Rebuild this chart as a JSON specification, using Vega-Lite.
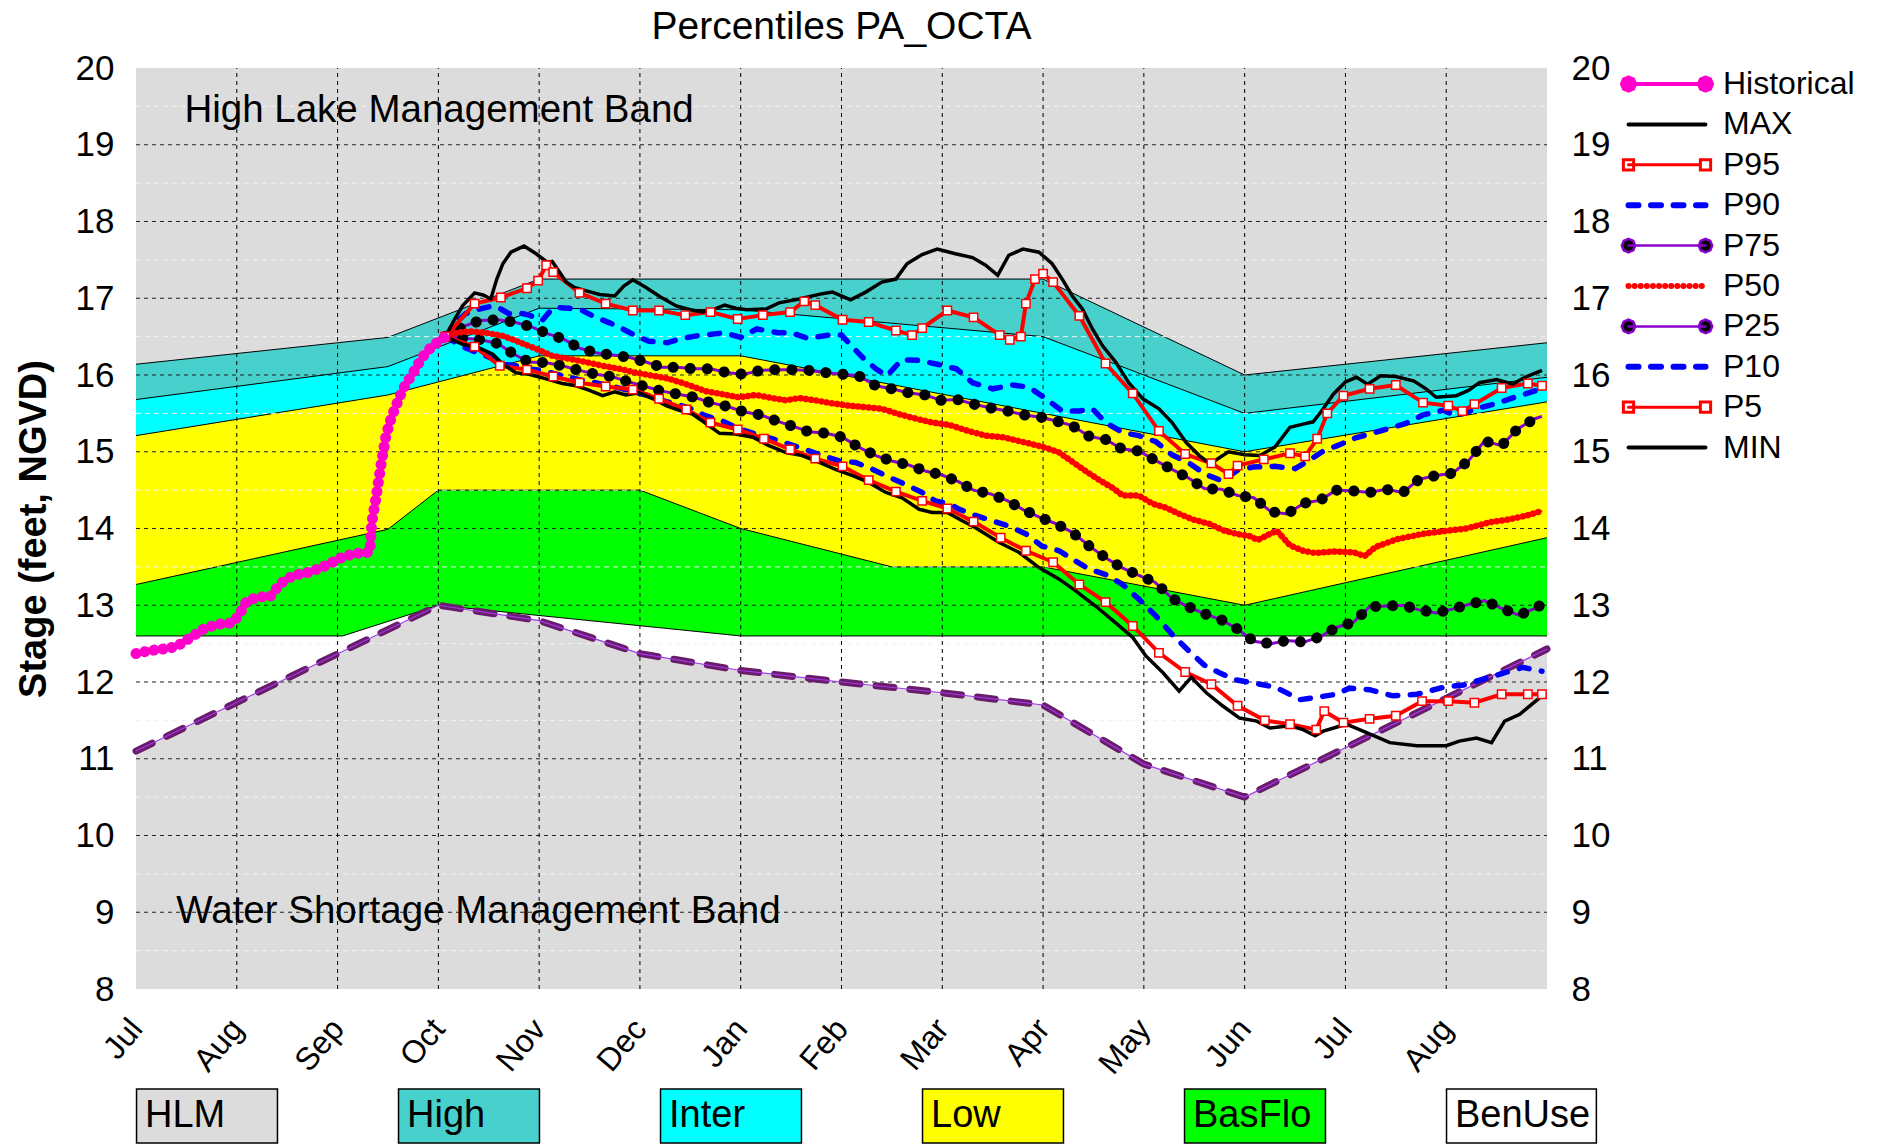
{
"$schema":"https://vega.github.io/schema/vega-lite/v6.json",
"width":1411,"height":921,
"autosize":{"type":"none"},
"padding":{"left":136,"top":68,"right":334,"bottom":157},
"title":{"text":"Percentiles PA_OCTA","fontSize":39,"fontWeight":"normal","anchor":"middle","frame":"group","offset":4,"color":"black"},
"config":{
"font":"Liberation Sans",
"view":{"stroke":null,"fill":"#DCDCDC"},
"axis":{"labelColor":"black","ticks":false,"domain":false,"grid":false,"labelOverlap":false,"labelFlush":false},
"legend":{"labelColor":"black"}
},
"datasets":{
"zb":[
{"z":"High","m":0,"v":16.14},{"z":"High","m":2.5,"v":16.49},{"z":"High","m":4,"v":17.25},{"z":"High","m":9,"v":17.25},{"z":"High","m":11,"v":16.0},{"z":"High","m":14,"v":16.42},
{"z":"Inter","m":0,"v":15.68},{"z":"Inter","m":2.5,"v":16.11},{"z":"Inter","m":4,"v":16.87},{"z":"Inter","m":6,"v":16.85},{"z":"Inter","m":9,"v":16.5},{"z":"Inter","m":11,"v":15.5},{"z":"Inter","m":14,"v":15.97},
{"z":"Low","m":0,"v":15.21},{"z":"Low","m":2.5,"v":15.74},{"z":"Low","m":4,"v":16.25},{"z":"Low","m":6,"v":16.25},{"z":"Low","m":11,"v":15.0},{"z":"Low","m":14,"v":15.65},
{"z":"BasFlo","m":0,"v":13.27},{"z":"BasFlo","m":2.5,"v":13.99},{"z":"BasFlo","m":3,"v":14.5},{"z":"BasFlo","m":5,"v":14.5},{"z":"BasFlo","m":6,"v":14.0},{"z":"BasFlo","m":7.5,"v":13.5},{"z":"BasFlo","m":9,"v":13.5},{"z":"BasFlo","m":11,"v":13.0},{"z":"BasFlo","m":14,"v":13.88},
{"z":"BenUse","m":0,"v":12.6},{"z":"BenUse","m":2.05,"v":12.6},{"z":"BenUse","m":3,"v":13.0},{"z":"BenUse","m":6,"v":12.6},{"z":"BenUse","m":14,"v":12.6},
{"z":"WSM","m":0,"v":11.1},{"z":"WSM","m":3,"v":13.0},{"z":"WSM","m":4,"v":12.8},{"z":"WSM","m":5,"v":12.37},{"z":"WSM","m":6,"v":12.15},{"z":"WSM","m":7,"v":12.0},{"z":"WSM","m":8,"v":11.86},{"z":"WSM","m":9,"v":11.7},{"z":"WSM","m":10,"v":10.93},{"z":"WSM","m":11,"v":10.5},{"z":"WSM","m":14,"v":12.43}
],
"gx":[{"m":1,"v":8},{"m":2,"v":8},{"m":3,"v":8},{"m":4,"v":8},{"m":5,"v":8},{"m":6,"v":8},{"m":7,"v":8},{"m":8,"v":8},{"m":9,"v":8},{"m":10,"v":8},{"m":11,"v":8},{"m":12,"v":8},{"m":13,"v":8}],
"gy":[{"m":0,"v":9},{"m":0,"v":10},{"m":0,"v":11},{"m":0,"v":12},{"m":0,"v":13},{"m":0,"v":14},{"m":0,"v":15},{"m":0,"v":16},{"m":0,"v":17},{"m":0,"v":18},{"m":0,"v":19}],
"gh":[{"m":0,"v":8.5},{"m":0,"v":9.5},{"m":0,"v":10.5},{"m":0,"v":11.5},{"m":0,"v":12.5},{"m":0,"v":13.5},{"m":0,"v":14.5},{"m":0,"v":15.5},{"m":0,"v":16.5},{"m":0,"v":17.5},{"m":0,"v":18.5},{"m":0,"v":19.5}],
"ann":[{"t":"High Lake Management Band","m":0.48,"v":19.45},{"t":"Water Shortage Management Band","m":0.4,"v":9.01}],
"pct":[
{"s":"Historical","m":0,"v":12.37},{"s":"Historical","m":0.14,"v":12.41},{"s":"Historical","m":0.27,"v":12.43},{"s":"Historical","m":0.4,"v":12.46},{"s":"Historical","m":0.53,"v":12.57},{"s":"Historical","m":0.67,"v":12.69},{"s":"Historical","m":0.8,"v":12.75},{"s":"Historical","m":0.96,"v":12.77},{"s":"Historical","m":1.03,"v":12.89},{"s":"Historical","m":1.1,"v":13.06},{"s":"Historical","m":1.23,"v":13.11},{"s":"Historical","m":1.33,"v":13.11},{"s":"Historical","m":1.43,"v":13.28},{"s":"Historical","m":1.56,"v":13.39},{"s":"Historical","m":1.72,"v":13.43},{"s":"Historical","m":1.89,"v":13.52},{"s":"Historical","m":2.02,"v":13.61},{"s":"Historical","m":2.15,"v":13.67},{"s":"Historical","m":2.32,"v":13.69},{"s":"Historical","m":2.34,"v":14.08},{"s":"Historical","m":2.38,"v":14.39},{"s":"Historical","m":2.43,"v":14.82},{"s":"Historical","m":2.48,"v":15.21},{"s":"Historical","m":2.53,"v":15.43},{"s":"Historical","m":2.58,"v":15.6},{"s":"Historical","m":2.65,"v":15.82},{"s":"Historical","m":2.75,"v":16.03},{"s":"Historical","m":2.84,"v":16.23},{"s":"Historical","m":2.94,"v":16.38},{"s":"Historical","m":3.07,"v":16.5},
{"s":"MAX","m":3.07,"v":16.5},{"s":"MAX","m":3.15,"v":16.7},{"s":"MAX","m":3.24,"v":16.9},{"s":"MAX","m":3.36,"v":17.07},{"s":"MAX","m":3.45,"v":17.04},{"s":"MAX","m":3.52,"v":16.99},{"s":"MAX","m":3.58,"v":17.25},{"s":"MAX","m":3.64,"v":17.45},{"s":"MAX","m":3.72,"v":17.6},{"s":"MAX","m":3.85,"v":17.68},{"s":"MAX","m":3.97,"v":17.58},{"s":"MAX","m":4.08,"v":17.47},{"s":"MAX","m":4.13,"v":17.48},{"s":"MAX","m":4.27,"v":17.21},{"s":"MAX","m":4.35,"v":17.14},{"s":"MAX","m":4.46,"v":17.1},{"s":"MAX","m":4.6,"v":17.05},{"s":"MAX","m":4.75,"v":17.03},{"s":"MAX","m":4.84,"v":17.16},{"s":"MAX","m":4.93,"v":17.24},{"s":"MAX","m":5.06,"v":17.14},{"s":"MAX","m":5.2,"v":17.02},{"s":"MAX","m":5.36,"v":16.9},{"s":"MAX","m":5.5,"v":16.85},{"s":"MAX","m":5.62,"v":16.82},{"s":"MAX","m":5.72,"v":16.85},{"s":"MAX","m":5.84,"v":16.91},{"s":"MAX","m":5.95,"v":16.87},{"s":"MAX","m":6.06,"v":16.85},{"s":"MAX","m":6.25,"v":16.86},{"s":"MAX","m":6.38,"v":16.94},{"s":"MAX","m":6.58,"v":16.99},{"s":"MAX","m":6.81,"v":17.06},{"s":"MAX","m":6.91,"v":17.08},{"s":"MAX","m":7.09,"v":16.98},{"s":"MAX","m":7.24,"v":17.08},{"s":"MAX","m":7.4,"v":17.21},{"s":"MAX","m":7.54,"v":17.25},{"s":"MAX","m":7.65,"v":17.45},{"s":"MAX","m":7.8,"v":17.57},{"s":"MAX","m":7.95,"v":17.64},{"s":"MAX","m":8.13,"v":17.58},{"s":"MAX","m":8.3,"v":17.53},{"s":"MAX","m":8.43,"v":17.43},{"s":"MAX","m":8.55,"v":17.3},{"s":"MAX","m":8.66,"v":17.56},{"s":"MAX","m":8.8,"v":17.64},{"s":"MAX","m":8.96,"v":17.6},{"s":"MAX","m":9.09,"v":17.45},{"s":"MAX","m":9.19,"v":17.25},{"s":"MAX","m":9.29,"v":17.03},{"s":"MAX","m":9.39,"v":16.86},{"s":"MAX","m":9.49,"v":16.6},{"s":"MAX","m":9.59,"v":16.38},{"s":"MAX","m":9.72,"v":16.17},{"s":"MAX","m":9.85,"v":15.9},{"s":"MAX","m":9.99,"v":15.69},{"s":"MAX","m":10.15,"v":15.56},{"s":"MAX","m":10.28,"v":15.38},{"s":"MAX","m":10.42,"v":15.12},{"s":"MAX","m":10.55,"v":14.95},{"s":"MAX","m":10.62,"v":14.88},{"s":"MAX","m":10.7,"v":14.88},{"s":"MAX","m":10.84,"v":15.0},{"s":"MAX","m":11.0,"v":14.96},{"s":"MAX","m":11.15,"v":14.95},{"s":"MAX","m":11.3,"v":15.06},{"s":"MAX","m":11.45,"v":15.32},{"s":"MAX","m":11.58,"v":15.36},{"s":"MAX","m":11.68,"v":15.39},{"s":"MAX","m":11.78,"v":15.56},{"s":"MAX","m":11.88,"v":15.75},{"s":"MAX","m":12.0,"v":15.91},{"s":"MAX","m":12.11,"v":15.97},{"s":"MAX","m":12.22,"v":15.88},{"s":"MAX","m":12.35,"v":15.99},{"s":"MAX","m":12.5,"v":15.98},{"s":"MAX","m":12.68,"v":15.92},{"s":"MAX","m":12.8,"v":15.82},{"s":"MAX","m":12.9,"v":15.71},{"s":"MAX","m":13.1,"v":15.73},{"s":"MAX","m":13.22,"v":15.8},{"s":"MAX","m":13.33,"v":15.9},{"s":"MAX","m":13.5,"v":15.94},{"s":"MAX","m":13.66,"v":15.88},{"s":"MAX","m":13.78,"v":15.97},{"s":"MAX","m":13.95,"v":16.06},
{"s":"P95","m":3.07,"v":16.5},{"s":"P95","m":3.36,"v":16.93},{"s":"P95","m":3.62,"v":17.01},{"s":"P95","m":3.88,"v":17.13},{"s":"P95","m":3.99,"v":17.23},{"s":"P95","m":4.07,"v":17.43},{"s":"P95","m":4.14,"v":17.34},{"s":"P95","m":4.4,"v":17.07},{"s":"P95","m":4.66,"v":16.93},{"s":"P95","m":4.93,"v":16.84},{"s":"P95","m":5.19,"v":16.84},{"s":"P95","m":5.45,"v":16.78},{"s":"P95","m":5.7,"v":16.82},{"s":"P95","m":5.97,"v":16.73},{"s":"P95","m":6.22,"v":16.78},{"s":"P95","m":6.49,"v":16.82},{"s":"P95","m":6.63,"v":16.96},{"s":"P95","m":6.74,"v":16.91},{"s":"P95","m":7.01,"v":16.72},{"s":"P95","m":7.27,"v":16.69},{"s":"P95","m":7.54,"v":16.58},{"s":"P95","m":7.7,"v":16.52},{"s":"P95","m":7.8,"v":16.61},{"s":"P95","m":8.05,"v":16.84},{"s":"P95","m":8.31,"v":16.75},{"s":"P95","m":8.57,"v":16.52},{"s":"P95","m":8.67,"v":16.46},{"s":"P95","m":8.78,"v":16.5},{"s":"P95","m":8.83,"v":16.93},{"s":"P95","m":8.92,"v":17.25},{"s":"P95","m":9.0,"v":17.32},{"s":"P95","m":9.1,"v":17.21},{"s":"P95","m":9.36,"v":16.77},{"s":"P95","m":9.62,"v":16.15},{"s":"P95","m":9.89,"v":15.76},{"s":"P95","m":10.15,"v":15.27},{"s":"P95","m":10.41,"v":14.97},{"s":"P95","m":10.67,"v":14.85},{"s":"P95","m":10.84,"v":14.71},{"s":"P95","m":10.93,"v":14.82},{"s":"P95","m":11.19,"v":14.9},{"s":"P95","m":11.45,"v":14.98},{"s":"P95","m":11.6,"v":14.94},{"s":"P95","m":11.72,"v":15.17},{"s":"P95","m":11.82,"v":15.5},{"s":"P95","m":11.98,"v":15.73},{"s":"P95","m":12.24,"v":15.82},{"s":"P95","m":12.5,"v":15.87},{"s":"P95","m":12.77,"v":15.64},{"s":"P95","m":13.02,"v":15.6},{"s":"P95","m":13.16,"v":15.53},{"s":"P95","m":13.28,"v":15.62},{"s":"P95","m":13.55,"v":15.83},{"s":"P95","m":13.81,"v":15.89},{"s":"P95","m":13.95,"v":15.86},
{"s":"P90","m":3.07,"v":16.5},{"s":"P90","m":3.18,"v":16.69},{"s":"P90","m":3.27,"v":16.8},{"s":"P90","m":3.41,"v":16.86},{"s":"P90","m":3.54,"v":16.9},{"s":"P90","m":3.62,"v":16.86},{"s":"P90","m":3.7,"v":16.8},{"s":"P90","m":3.8,"v":16.81},{"s":"P90","m":3.9,"v":16.78},{"s":"P90","m":4.03,"v":16.71},{"s":"P90","m":4.12,"v":16.85},{"s":"P90","m":4.17,"v":16.88},{"s":"P90","m":4.3,"v":16.87},{"s":"P90","m":4.43,"v":16.84},{"s":"P90","m":4.56,"v":16.75},{"s":"P90","m":4.7,"v":16.68},{"s":"P90","m":4.83,"v":16.6},{"s":"P90","m":4.96,"v":16.51},{"s":"P90","m":5.09,"v":16.44},{"s":"P90","m":5.27,"v":16.42},{"s":"P90","m":5.4,"v":16.47},{"s":"P90","m":5.56,"v":16.51},{"s":"P90","m":5.71,"v":16.53},{"s":"P90","m":5.84,"v":16.55},{"s":"P90","m":6.0,"v":16.49},{"s":"P90","m":6.16,"v":16.6},{"s":"P90","m":6.37,"v":16.55},{"s":"P90","m":6.5,"v":16.55},{"s":"P90","m":6.66,"v":16.48},{"s":"P90","m":6.88,"v":16.52},{"s":"P90","m":7.0,"v":16.52},{"s":"P90","m":7.2,"v":16.24},{"s":"P90","m":7.34,"v":16.08},{"s":"P90","m":7.45,"v":15.99},{"s":"P90","m":7.6,"v":16.2},{"s":"P90","m":7.77,"v":16.19},{"s":"P90","m":7.95,"v":16.14},{"s":"P90","m":8.14,"v":16.08},{"s":"P90","m":8.3,"v":15.9},{"s":"P90","m":8.5,"v":15.82},{"s":"P90","m":8.7,"v":15.87},{"s":"P90","m":8.86,"v":15.84},{"s":"P90","m":9.03,"v":15.69},{"s":"P90","m":9.19,"v":15.53},{"s":"P90","m":9.36,"v":15.53},{"s":"P90","m":9.49,"v":15.56},{"s":"P90","m":9.62,"v":15.38},{"s":"P90","m":9.79,"v":15.25},{"s":"P90","m":9.95,"v":15.21},{"s":"P90","m":10.12,"v":15.13},{"s":"P90","m":10.28,"v":14.96},{"s":"P90","m":10.45,"v":14.85},{"s":"P90","m":10.62,"v":14.7},{"s":"P90","m":10.78,"v":14.62},{"s":"P90","m":10.93,"v":14.76},{"s":"P90","m":11.08,"v":14.8},{"s":"P90","m":11.3,"v":14.81},{"s":"P90","m":11.5,"v":14.78},{"s":"P90","m":11.63,"v":14.88},{"s":"P90","m":11.77,"v":15.0},{"s":"P90","m":11.92,"v":15.08},{"s":"P90","m":12.1,"v":15.18},{"s":"P90","m":12.37,"v":15.28},{"s":"P90","m":12.6,"v":15.37},{"s":"P90","m":12.77,"v":15.48},{"s":"P90","m":12.97,"v":15.54},{"s":"P90","m":13.1,"v":15.47},{"s":"P90","m":13.3,"v":15.56},{"s":"P90","m":13.5,"v":15.63},{"s":"P90","m":13.7,"v":15.72},{"s":"P90","m":13.95,"v":15.82},
{"s":"P75","m":3.07,"v":16.5},{"s":"P75","m":3.24,"v":16.63},{"s":"P75","m":3.42,"v":16.71},{"s":"P75","m":3.59,"v":16.72},{"s":"P75","m":3.75,"v":16.69},{"s":"P75","m":3.92,"v":16.63},{"s":"P75","m":4.08,"v":16.54},{"s":"P75","m":4.24,"v":16.47},{"s":"P75","m":4.4,"v":16.35},{"s":"P75","m":4.56,"v":16.29},{"s":"P75","m":4.73,"v":16.26},{"s":"P75","m":4.89,"v":16.23},{"s":"P75","m":5.06,"v":16.17},{"s":"P75","m":5.22,"v":16.1},{"s":"P75","m":5.37,"v":16.1},{"s":"P75","m":5.54,"v":16.08},{"s":"P75","m":5.7,"v":16.08},{"s":"P75","m":5.87,"v":16.03},{"s":"P75","m":6.03,"v":16.01},{"s":"P75","m":6.2,"v":16.06},{"s":"P75","m":6.36,"v":16.07},{"s":"P75","m":6.52,"v":16.07},{"s":"P75","m":6.68,"v":16.06},{"s":"P75","m":6.85,"v":16.03},{"s":"P75","m":7.01,"v":16.01},{"s":"P75","m":7.17,"v":15.99},{"s":"P75","m":7.34,"v":15.86},{"s":"P75","m":7.5,"v":15.82},{"s":"P75","m":7.66,"v":15.77},{"s":"P75","m":7.83,"v":15.74},{"s":"P75","m":7.99,"v":15.67},{"s":"P75","m":8.15,"v":15.68},{"s":"P75","m":8.31,"v":15.62},{"s":"P75","m":8.48,"v":15.57},{"s":"P75","m":8.65,"v":15.53},{"s":"P75","m":8.81,"v":15.48},{"s":"P75","m":8.98,"v":15.45},{"s":"P75","m":9.13,"v":15.4},{"s":"P75","m":9.29,"v":15.34},{"s":"P75","m":9.46,"v":15.2},{"s":"P75","m":9.62,"v":15.16},{"s":"P75","m":9.78,"v":15.04},{"s":"P75","m":9.95,"v":15.01},{"s":"P75","m":10.11,"v":14.89},{"s":"P75","m":10.28,"v":14.77},{"s":"P75","m":10.44,"v":14.66},{"s":"P75","m":10.6,"v":14.52},{"s":"P75","m":10.77,"v":14.51},{"s":"P75","m":10.93,"v":14.43},{"s":"P75","m":11.09,"v":14.4},{"s":"P75","m":11.26,"v":14.22},{"s":"P75","m":11.42,"v":14.19},{"s":"P75","m":11.59,"v":14.33},{"s":"P75","m":11.75,"v":14.37},{"s":"P75","m":11.91,"v":14.5},{"s":"P75","m":12.08,"v":14.49},{"s":"P75","m":12.24,"v":14.47},{"s":"P75","m":12.4,"v":14.51},{"s":"P75","m":12.57,"v":14.47},{"s":"P75","m":12.73,"v":14.64},{"s":"P75","m":12.9,"v":14.69},{"s":"P75","m":13.06,"v":14.72},{"s":"P75","m":13.22,"v":14.88},{"s":"P75","m":13.38,"v":15.14},{"s":"P75","m":13.55,"v":15.08},{"s":"P75","m":13.71,"v":15.3},{"s":"P75","m":13.88,"v":15.43},{"s":"P75","m":13.95,"v":15.46},
{"s":"P50","m":3.07,"v":16.5},{"s":"P50","m":3.18,"v":16.55},{"s":"P50","m":3.31,"v":16.57},{"s":"P50","m":3.47,"v":16.55},{"s":"P50","m":3.64,"v":16.51},{"s":"P50","m":3.8,"v":16.43},{"s":"P50","m":3.97,"v":16.34},{"s":"P50","m":4.13,"v":16.25},{"s":"P50","m":4.3,"v":16.21},{"s":"P50","m":4.46,"v":16.17},{"s":"P50","m":4.63,"v":16.12},{"s":"P50","m":4.8,"v":16.08},{"s":"P50","m":4.96,"v":16.03},{"s":"P50","m":5.13,"v":15.99},{"s":"P50","m":5.29,"v":15.95},{"s":"P50","m":5.46,"v":15.88},{"s":"P50","m":5.65,"v":15.79},{"s":"P50","m":5.82,"v":15.75},{"s":"P50","m":5.98,"v":15.71},{"s":"P50","m":6.15,"v":15.74},{"s":"P50","m":6.31,"v":15.7},{"s":"P50","m":6.45,"v":15.67},{"s":"P50","m":6.58,"v":15.7},{"s":"P50","m":6.74,"v":15.67},{"s":"P50","m":6.91,"v":15.63},{"s":"P50","m":7.07,"v":15.6},{"s":"P50","m":7.24,"v":15.58},{"s":"P50","m":7.4,"v":15.56},{"s":"P50","m":7.57,"v":15.49},{"s":"P50","m":7.74,"v":15.43},{"s":"P50","m":7.9,"v":15.38},{"s":"P50","m":8.07,"v":15.35},{"s":"P50","m":8.26,"v":15.27},{"s":"P50","m":8.43,"v":15.21},{"s":"P50","m":8.6,"v":15.19},{"s":"P50","m":8.76,"v":15.14},{"s":"P50","m":8.89,"v":15.1},{"s":"P50","m":9.03,"v":15.05},{"s":"P50","m":9.16,"v":14.99},{"s":"P50","m":9.29,"v":14.87},{"s":"P50","m":9.42,"v":14.75},{"s":"P50","m":9.56,"v":14.63},{"s":"P50","m":9.69,"v":14.53},{"s":"P50","m":9.79,"v":14.43},{"s":"P50","m":9.95,"v":14.43},{"s":"P50","m":10.09,"v":14.32},{"s":"P50","m":10.22,"v":14.27},{"s":"P50","m":10.35,"v":14.19},{"s":"P50","m":10.48,"v":14.12},{"s":"P50","m":10.65,"v":14.06},{"s":"P50","m":10.8,"v":13.97},{"s":"P50","m":10.92,"v":13.93},{"s":"P50","m":11.05,"v":13.9},{"s":"P50","m":11.13,"v":13.85},{"s":"P50","m":11.22,"v":13.91},{"s":"P50","m":11.32,"v":13.97},{"s":"P50","m":11.45,"v":13.78},{"s":"P50","m":11.58,"v":13.71},{"s":"P50","m":11.7,"v":13.68},{"s":"P50","m":11.88,"v":13.7},{"s":"P50","m":12.08,"v":13.69},{"s":"P50","m":12.19,"v":13.64},{"s":"P50","m":12.3,"v":13.76},{"s":"P50","m":12.51,"v":13.86},{"s":"P50","m":12.77,"v":13.93},{"s":"P50","m":13.0,"v":13.97},{"s":"P50","m":13.2,"v":14.0},{"s":"P50","m":13.43,"v":14.08},{"s":"P50","m":13.63,"v":14.12},{"s":"P50","m":13.8,"v":14.17},{"s":"P50","m":13.95,"v":14.23},
{"s":"P25","m":3.07,"v":16.5},{"s":"P25","m":3.26,"v":16.48},{"s":"P25","m":3.42,"v":16.46},{"s":"P25","m":3.59,"v":16.41},{"s":"P25","m":3.75,"v":16.27},{"s":"P25","m":3.9,"v":16.17},{"s":"P25","m":4.07,"v":16.16},{"s":"P25","m":4.23,"v":16.12},{"s":"P25","m":4.4,"v":16.06},{"s":"P25","m":4.56,"v":16.01},{"s":"P25","m":4.72,"v":15.98},{"s":"P25","m":4.89,"v":15.91},{"s":"P25","m":5.05,"v":15.85},{"s":"P25","m":5.22,"v":15.79},{"s":"P25","m":5.38,"v":15.75},{"s":"P25","m":5.54,"v":15.71},{"s":"P25","m":5.7,"v":15.64},{"s":"P25","m":5.87,"v":15.59},{"s":"P25","m":6.03,"v":15.52},{"s":"P25","m":6.2,"v":15.48},{"s":"P25","m":6.36,"v":15.4},{"s":"P25","m":6.52,"v":15.33},{"s":"P25","m":6.68,"v":15.26},{"s":"P25","m":6.85,"v":15.24},{"s":"P25","m":7.01,"v":15.19},{"s":"P25","m":7.17,"v":15.06},{"s":"P25","m":7.34,"v":14.95},{"s":"P25","m":7.5,"v":14.88},{"s":"P25","m":7.66,"v":14.83},{"s":"P25","m":7.83,"v":14.75},{"s":"P25","m":7.99,"v":14.7},{"s":"P25","m":8.16,"v":14.61},{"s":"P25","m":8.31,"v":14.5},{"s":"P25","m":8.48,"v":14.45},{"s":"P25","m":8.65,"v":14.36},{"s":"P25","m":8.81,"v":14.24},{"s":"P25","m":8.98,"v":14.14},{"s":"P25","m":9.13,"v":14.06},{"s":"P25","m":9.29,"v":13.95},{"s":"P25","m":9.46,"v":13.77},{"s":"P25","m":9.62,"v":13.62},{"s":"P25","m":9.78,"v":13.49},{"s":"P25","m":9.95,"v":13.39},{"s":"P25","m":10.11,"v":13.3},{"s":"P25","m":10.28,"v":13.09},{"s":"P25","m":10.44,"v":12.98},{"s":"P25","m":10.6,"v":12.89},{"s":"P25","m":10.77,"v":12.81},{"s":"P25","m":10.93,"v":12.69},{"s":"P25","m":11.09,"v":12.53},{"s":"P25","m":11.26,"v":12.5},{"s":"P25","m":11.42,"v":12.54},{"s":"P25","m":11.59,"v":12.52},{"s":"P25","m":11.75,"v":12.59},{"s":"P25","m":11.91,"v":12.71},{"s":"P25","m":12.08,"v":12.78},{"s":"P25","m":12.24,"v":12.98},{"s":"P25","m":12.4,"v":12.99},{"s":"P25","m":12.57,"v":13.0},{"s":"P25","m":12.73,"v":12.94},{"s":"P25","m":12.9,"v":12.9},{"s":"P25","m":13.06,"v":12.95},{"s":"P25","m":13.22,"v":13.01},{"s":"P25","m":13.38,"v":13.06},{"s":"P25","m":13.55,"v":12.96},{"s":"P25","m":13.72,"v":12.87},{"s":"P25","m":13.88,"v":12.96},{"s":"P25","m":13.95,"v":13.01},
{"s":"P10","m":3.07,"v":16.5},{"s":"P10","m":3.24,"v":16.37},{"s":"P10","m":3.37,"v":16.3},{"s":"P10","m":3.51,"v":16.23},{"s":"P10","m":3.64,"v":16.14},{"s":"P10","m":3.77,"v":16.12},{"s":"P10","m":3.9,"v":16.08},{"s":"P10","m":4.03,"v":16.06},{"s":"P10","m":4.17,"v":16.01},{"s":"P10","m":4.3,"v":15.97},{"s":"P10","m":4.43,"v":15.93},{"s":"P10","m":4.56,"v":15.9},{"s":"P10","m":4.7,"v":15.86},{"s":"P10","m":4.83,"v":15.82},{"s":"P10","m":4.96,"v":15.77},{"s":"P10","m":5.09,"v":15.73},{"s":"P10","m":5.22,"v":15.67},{"s":"P10","m":5.36,"v":15.62},{"s":"P10","m":5.49,"v":15.57},{"s":"P10","m":5.65,"v":15.47},{"s":"P10","m":5.82,"v":15.4},{"s":"P10","m":5.98,"v":15.3},{"s":"P10","m":6.15,"v":15.23},{"s":"P10","m":6.31,"v":15.17},{"s":"P10","m":6.48,"v":15.1},{"s":"P10","m":6.64,"v":15.03},{"s":"P10","m":6.81,"v":14.95},{"s":"P10","m":6.98,"v":14.88},{"s":"P10","m":7.14,"v":14.86},{"s":"P10","m":7.31,"v":14.77},{"s":"P10","m":7.47,"v":14.67},{"s":"P10","m":7.64,"v":14.57},{"s":"P10","m":7.8,"v":14.47},{"s":"P10","m":7.93,"v":14.36},{"s":"P10","m":8.07,"v":14.32},{"s":"P10","m":8.17,"v":14.25},{"s":"P10","m":8.33,"v":14.17},{"s":"P10","m":8.5,"v":14.1},{"s":"P10","m":8.66,"v":14.03},{"s":"P10","m":8.83,"v":13.93},{"s":"P10","m":8.99,"v":13.77},{"s":"P10","m":9.16,"v":13.71},{"s":"P10","m":9.29,"v":13.6},{"s":"P10","m":9.46,"v":13.47},{"s":"P10","m":9.62,"v":13.4},{"s":"P10","m":9.79,"v":13.27},{"s":"P10","m":9.95,"v":13.08},{"s":"P10","m":10.12,"v":12.86},{"s":"P10","m":10.28,"v":12.62},{"s":"P10","m":10.45,"v":12.4},{"s":"P10","m":10.6,"v":12.22},{"s":"P10","m":10.75,"v":12.12},{"s":"P10","m":10.9,"v":12.03},{"s":"P10","m":11.12,"v":11.98},{"s":"P10","m":11.31,"v":11.93},{"s":"P10","m":11.55,"v":11.77},{"s":"P10","m":11.71,"v":11.8},{"s":"P10","m":11.91,"v":11.84},{"s":"P10","m":12.04,"v":11.92},{"s":"P10","m":12.24,"v":11.9},{"s":"P10","m":12.47,"v":11.82},{"s":"P10","m":12.71,"v":11.84},{"s":"P10","m":12.97,"v":11.93},{"s":"P10","m":13.17,"v":11.96},{"s":"P10","m":13.4,"v":12.05},{"s":"P10","m":13.63,"v":12.14},{"s":"P10","m":13.76,"v":12.19},{"s":"P10","m":13.95,"v":12.14},
{"s":"P5","m":3.07,"v":16.5},{"s":"P5","m":3.36,"v":16.37},{"s":"P5","m":3.61,"v":16.12},{"s":"P5","m":3.88,"v":16.07},{"s":"P5","m":4.14,"v":15.98},{"s":"P5","m":4.4,"v":15.9},{"s":"P5","m":4.66,"v":15.85},{"s":"P5","m":4.93,"v":15.81},{"s":"P5","m":5.19,"v":15.69},{"s":"P5","m":5.46,"v":15.55},{"s":"P5","m":5.7,"v":15.38},{"s":"P5","m":5.97,"v":15.29},{"s":"P5","m":6.23,"v":15.17},{"s":"P5","m":6.49,"v":15.03},{"s":"P5","m":6.74,"v":14.91},{"s":"P5","m":7.01,"v":14.81},{"s":"P5","m":7.27,"v":14.63},{"s":"P5","m":7.54,"v":14.48},{"s":"P5","m":7.8,"v":14.36},{"s":"P5","m":8.05,"v":14.26},{"s":"P5","m":8.31,"v":14.09},{"s":"P5","m":8.58,"v":13.88},{"s":"P5","m":8.83,"v":13.71},{"s":"P5","m":9.1,"v":13.56},{"s":"P5","m":9.36,"v":13.27},{"s":"P5","m":9.62,"v":13.04},{"s":"P5","m":9.89,"v":12.73},{"s":"P5","m":10.15,"v":12.38},{"s":"P5","m":10.41,"v":12.13},{"s":"P5","m":10.67,"v":11.97},{"s":"P5","m":10.93,"v":11.69},{"s":"P5","m":11.2,"v":11.5},{"s":"P5","m":11.45,"v":11.45},{"s":"P5","m":11.71,"v":11.38},{"s":"P5","m":11.79,"v":11.62},{"s":"P5","m":11.98,"v":11.47},{"s":"P5","m":12.24,"v":11.52},{"s":"P5","m":12.5,"v":11.56},{"s":"P5","m":12.76,"v":11.75},{"s":"P5","m":13.02,"v":11.75},{"s":"P5","m":13.28,"v":11.73},{"s":"P5","m":13.55,"v":11.84},{"s":"P5","m":13.81,"v":11.84},{"s":"P5","m":13.95,"v":11.84},
{"s":"MIN","m":3.07,"v":16.5},{"s":"MIN","m":3.24,"v":16.4},{"s":"MIN","m":3.41,"v":16.35},{"s":"MIN","m":3.54,"v":16.27},{"s":"MIN","m":3.64,"v":16.14},{"s":"MIN","m":3.77,"v":16.03},{"s":"MIN","m":3.9,"v":16.01},{"s":"MIN","m":4.07,"v":15.95},{"s":"MIN","m":4.23,"v":15.89},{"s":"MIN","m":4.37,"v":15.86},{"s":"MIN","m":4.5,"v":15.8},{"s":"MIN","m":4.63,"v":15.73},{"s":"MIN","m":4.75,"v":15.78},{"s":"MIN","m":4.86,"v":15.74},{"s":"MIN","m":4.99,"v":15.77},{"s":"MIN","m":5.13,"v":15.69},{"s":"MIN","m":5.26,"v":15.6},{"s":"MIN","m":5.39,"v":15.54},{"s":"MIN","m":5.52,"v":15.49},{"s":"MIN","m":5.62,"v":15.4},{"s":"MIN","m":5.79,"v":15.24},{"s":"MIN","m":5.95,"v":15.23},{"s":"MIN","m":6.12,"v":15.19},{"s":"MIN","m":6.28,"v":15.08},{"s":"MIN","m":6.45,"v":14.99},{"s":"MIN","m":6.61,"v":14.95},{"s":"MIN","m":6.78,"v":14.86},{"s":"MIN","m":6.94,"v":14.77},{"s":"MIN","m":7.11,"v":14.69},{"s":"MIN","m":7.27,"v":14.6},{"s":"MIN","m":7.44,"v":14.47},{"s":"MIN","m":7.6,"v":14.4},{"s":"MIN","m":7.77,"v":14.25},{"s":"MIN","m":7.9,"v":14.21},{"s":"MIN","m":8.05,"v":14.21},{"s":"MIN","m":8.17,"v":14.12},{"s":"MIN","m":8.33,"v":14.01},{"s":"MIN","m":8.56,"v":13.82},{"s":"MIN","m":8.76,"v":13.69},{"s":"MIN","m":8.96,"v":13.49},{"s":"MIN","m":9.16,"v":13.34},{"s":"MIN","m":9.32,"v":13.19},{"s":"MIN","m":9.52,"v":12.99},{"s":"MIN","m":9.72,"v":12.77},{"s":"MIN","m":9.89,"v":12.58},{"s":"MIN","m":10.02,"v":12.34},{"s":"MIN","m":10.19,"v":12.12},{"s":"MIN","m":10.35,"v":11.88},{"s":"MIN","m":10.47,"v":12.06},{"s":"MIN","m":10.62,"v":11.86},{"s":"MIN","m":10.78,"v":11.69},{"s":"MIN","m":10.95,"v":11.53},{"s":"MIN","m":11.12,"v":11.49},{"s":"MIN","m":11.25,"v":11.4},{"s":"MIN","m":11.45,"v":11.43},{"s":"MIN","m":11.58,"v":11.38},{"s":"MIN","m":11.7,"v":11.3},{"s":"MIN","m":11.78,"v":11.36},{"s":"MIN","m":12.01,"v":11.45},{"s":"MIN","m":12.21,"v":11.34},{"s":"MIN","m":12.44,"v":11.21},{"s":"MIN","m":12.71,"v":11.17},{"s":"MIN","m":13.0,"v":11.17},{"s":"MIN","m":13.13,"v":11.23},{"s":"MIN","m":13.3,"v":11.27},{"s":"MIN","m":13.45,"v":11.21},{"s":"MIN","m":13.58,"v":11.49},{"s":"MIN","m":13.73,"v":11.58},{"s":"MIN","m":13.83,"v":11.69},{"s":"MIN","m":13.95,"v":11.82}
]
},
"layer":[
{
"encoding":{
"x":{"field":"m","type":"quantitative","title":null,"scale":{"domain":[0,14],"nice":false,"zero":false},
"axis":{"values":[0,1,2,3,4,5,6,7,8,9,10,11,12,13],"labelExpr":"['Jul','Aug','Sep','Oct','Nov','Dec','Jan','Feb','Mar','Apr','May','Jun','Jul','Aug'][datum.value]","labelAngle":-50,"labelAlign":"right","labelBaseline":"middle","labelFontSize":32,"labelPadding":34}},
"y":{"field":"v","type":"quantitative","stack":null,"title":"Stage (feet, NGVD)","scale":{"domain":[8,20],"nice":false,"zero":false},
"axis":{"orient":"left","values":[8,9,10,11,12,13,14,15,16,17,18,19,20],"labelFontSize":35,"labelPadding":22,"titleFontSize":38,"titleFontWeight":"bold","titlePadding":22,"titleColor":"black"}}
},
"layer":[
{"data":{"name":"zb"},"transform":[{"filter":"datum.z==='High'"}],"mark":{"type":"area","opacity":1},
"encoding":{"y2":{"datum":8},"fill":{"field":"z","type":"nominal","scale":{"domain":["HLM","High","Inter","Low","BasFlo","BenUse"],"range":["#DCDCDC","#48D1CC","#00FFFF","#FFFF00","#00FF00","#FFFFFF"]},
"legend":{"orient":"bottom","direction":"horizontal","title":null,"symbolSize":2916,"symbolOffset":43,"symbolStrokeColor":"black","symbolStrokeWidth":1.5,"symbolOpacity":1,"labelFontSize":38,"labelOffset":-90,"columnPadding":114,"offset":8,"labelLimit":400,
"encode":{"symbols":{"update":{"shape":{"signal":"datum.value==='BenUse' ? 'M-2.61,-1H2.94V1H-2.61Z' : 'M-2.61,-1H2.61V1H-2.61Z'"}}}}}}}},
{"data":{"name":"zb"},"transform":[{"filter":"datum.z==='Inter'"}],"mark":{"type":"area","color":"#00FFFF","opacity":1},"encoding":{"y2":{"datum":8}}},
{"data":{"name":"zb"},"transform":[{"filter":"datum.z==='Low'"}],"mark":{"type":"area","color":"#FFFF00","opacity":1},"encoding":{"y2":{"datum":8}}},
{"data":{"name":"zb"},"transform":[{"filter":"datum.z==='BasFlo'"}],"mark":{"type":"area","color":"#00FF00","opacity":1},"encoding":{"y2":{"datum":8}}},
{"data":{"name":"zb"},"transform":[{"filter":"datum.z==='BenUse'"}],"mark":{"type":"area","color":"#FFFFFF","opacity":1},"encoding":{"y2":{"datum":8}}},
{"data":{"name":"zb"},"transform":[{"filter":"datum.z==='WSM'"}],"mark":{"type":"area","color":"#DCDCDC","opacity":1},"encoding":{"y2":{"datum":8}}},
{"data":{"name":"zb"},"transform":[{"filter":"datum.z!=='WSM'"}],"mark":{"type":"line","color":"black","strokeWidth":1},"encoding":{"detail":{"field":"z"}}},
{"data":{"name":"gh"},"mark":{"type":"rule","color":"#F2F2F2","strokeWidth":1,"strokeDash":[5,4]},"encoding":{"x2":{"datum":14}}},
{"data":{"name":"gy"},"mark":{"type":"rule","color":"#222222","strokeWidth":1,"strokeDash":[4,4]},"encoding":{"x2":{"datum":14}}},
{"data":{"name":"gx"},"mark":{"type":"rule","color":"black","strokeWidth":1,"strokeDash":[4,4]},"encoding":{"y2":{"datum":20}}},
{"data":{"name":"zb"},"transform":[{"filter":"datum.z==='WSM'"}],"mark":{"type":"line","color":"#6A1B6A","strokeWidth":7,"strokeDash":[18,16],"strokeCap":"round"}},
{"data":{"name":"zb"},"transform":[{"filter":"datum.z==='WSM'"}],"mark":{"type":"line","color":"#A23BEA","strokeWidth":1.2}},
{"data":{"name":"pct"},"transform":[{"filter":{"field":"s","oneOf":["P75","P25"]}}],"mark":{"type":"line","color":"#8800CC","strokeWidth":3},"encoding":{"detail":{"field":"s"}}},
{"data":{"name":"pct"},"transform":[{"filter":{"field":"s","oneOf":["P75","P25"]}}],"mark":{"type":"line","color":"black","strokeWidth":11,"strokeDash":[0.1,17],"strokeCap":"round"},"encoding":{"detail":{"field":"s"}}},
{"data":{"name":"pct"},"transform":[{"filter":{"field":"s","oneOf":["P50"]}}],"mark":{"type":"line","color":"#FF0000","strokeWidth":2.5}},
{"data":{"name":"pct"},"transform":[{"filter":{"field":"s","oneOf":["P50"]}}],"mark":{"type":"line","color":"#FF0000","strokeWidth":6.5,"strokeDash":[0.1,5.2],"strokeCap":"round"}},
{"data":{"name":"pct"},"transform":[{"filter":{"field":"s","oneOf":["P90","P10"]}}],"mark":{"type":"line","color":"#0000FF","strokeWidth":5.5,"strokeDash":[10,12.5],"strokeCap":"round"},"encoding":{"detail":{"field":"s"}}},
{"data":{"name":"pct"},"transform":[{"filter":{"field":"s","oneOf":["P95","P5"]}}],"mark":{"type":"line","color":"#FF0000","strokeWidth":4},"encoding":{"detail":{"field":"s"}}},
{"data":{"name":"pct"},"transform":[{"filter":{"field":"s","oneOf":["MAX","MIN"]}}],"mark":{"type":"line","strokeWidth":3.5},
"encoding":{"stroke":{"field":"s","type":"nominal","scale":{"domain":["Historical","MAX","P95","P90","P75","P50","P25","P10","P5","MIN"],"range":["#FF00CC","black","#FF0000","#0000FF","#8800CC","#FF0000","#8800CC","#0000FF","#FF0000","black"]},
"legend":{"orient":"right","title":null,"offset":19,"symbolSize":1024,"symbolOffset":22,"rowPadding":8.4,"labelFontSize":32,"labelOffset":40,"labelLimit":300,
"encode":{"symbols":{"update":{
"shape":{"signal":"datum.value==='Historical' ? 'M-2.406,0H2.406M-1.996,0L-2.116,0.29L-2.406,0.41L-2.696,0.29L-2.816,0L-2.696,-0.29L-2.406,-0.41L-2.116,-0.29ZM2.816,0L2.696,0.29L2.406,0.41L2.116,0.29L1.996,0L2.116,-0.29L2.406,-0.41L2.696,-0.29Z' : (datum.value==='P75'||datum.value==='P25') ? 'M-2.406,0H2.406M-1.986,0L-2.109,0.297L-2.406,0.42L-2.703,0.297L-2.826,0L-2.703,-0.297L-2.406,-0.42L-2.109,-0.297ZM2.826,0L2.703,0.297L2.406,0.42L2.109,0.297L1.986,0L2.109,-0.297L2.406,-0.42L2.703,-0.297Z' : (datum.value==='P95'||datum.value==='P5') ? 'M-2.406,0H2.086M-2.726,-0.32H-2.086V0.32H-2.726ZM2.086,-0.32H2.726V0.32H2.086Z' : 'M-2.406,0H2.406'"},
"fill":{"signal":"datum.value==='Historical' ? '#FF00CC' : (datum.value==='P75'||datum.value==='P25') ? 'black' : (datum.value==='P95'||datum.value==='P5') ? 'white' : 'transparent'"},
"strokeWidth":{"signal":"(datum.value==='P90'||datum.value==='P10'||datum.value==='P50') ? 6 : (datum.value==='P75'||datum.value==='P25') ? 2.5 : (datum.value==='P95'||datum.value==='P5') ? 3 : 4"},
"strokeDash":{"signal":"(datum.value==='P90'||datum.value==='P10') ? [10,12.5] : datum.value==='P50' ? [0.1,6] : [1,0]"},
"strokeCap":{"value":"round"},
"opacity":{"value":1}
}}}}}}},
{"data":{"name":"pct"},"transform":[{"filter":{"field":"s","oneOf":["P95","P5"]}}],"mark":{"type":"square","size":70,"fill":"white","stroke":"#FF0000","strokeWidth":1.5,"opacity":1}},
{"data":{"name":"pct"},"transform":[{"filter":{"field":"s","oneOf":["Historical"]}}],"mark":{"type":"line","color":"#FF00CC","strokeWidth":3}},
{"data":{"name":"pct"},"transform":[{"filter":{"field":"s","oneOf":["Historical"]}}],"mark":{"type":"line","color":"#FF00CC","strokeWidth":11,"strokeDash":[0.1,9],"strokeCap":"round"}},
{"data":{"values":[{}]},"mark":{"type":"rect","fillOpacity":0,"stroke":"black","strokeWidth":2.5},"encoding":{"x":{"datum":0},"x2":{"datum":14},"y":{"datum":8},"y2":{"datum":20}}}
]
},
{"data":{"name":"ann"},"mark":{"type":"text","align":"left","baseline":"middle","fontSize":38.5,"color":"black"},
"encoding":{"x":{"field":"m","type":"quantitative","title":null},
"y":{"field":"v","type":"quantitative","title":null,"axis":{"orient":"right","values":[8,9,10,11,12,13,14,15,16,17,18,19,20],"labelFontSize":35,"labelPadding":24}},
"text":{"field":"t"}}}
],
"resolve":{"axis":{"y":"independent"}}
}
